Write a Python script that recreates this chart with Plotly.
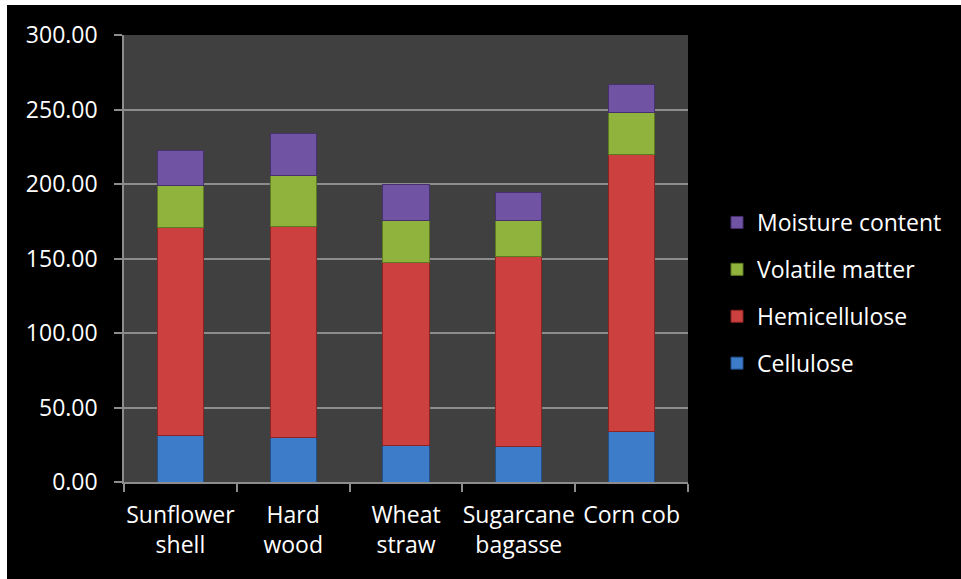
import plotly.graph_objects as go

# Biomass feedstocks (x categories) and their stacked composition values
categories = ["Sunflower<br>shell", "Hard<br>wood", "Wheat<br>straw", "Sugarcane<br>bagasse", "Corn cob"]
cellulose = [31.1, 29.8, 24.2, 23.8, 33.6]
hemicellulose = [139.5, 141.9, 122.9, 127.8, 186.0]
volatile_matter = [28.7, 34.1, 28.7, 24.2, 28.5]
moisture_content = [22.9, 28.3, 23.8, 18.6, 19.0]

series_names = ["Cellulose", "Hemicellulose", "Volatile matter", "Moisture content"]
series_values = [cellulose, hemicellulose, volatile_matter, moisture_content]
series_colors = ["#3d7cc9", "#cc413f", "#8fb33d", "#7153a3"]
series_edges = ["#234f8a", "#8a2523", "#5c7a22", "#46306e"]

y_ticks = [0, 50, 100, 150, 200, 250, 300]

FONT = "Open Sans"
W, H = 961, 579
ML, MR, MT, MB = 124, 273, 35, 97
PW, PH = W - ML - MR, H - MT - MB

fig = go.Figure()
n_series = len(series_names)
for i, (name, vals, col, edge) in enumerate(zip(series_names, series_values, series_colors, series_edges)):
    fig.add_trace(go.Bar(
        name=name,
        x=categories,
        y=vals,
        legendgroup=name,
        legendrank=n_series - i,  # top segment listed first
        marker=dict(color=col, line=dict(color=edge, width=1)),
    ))


def px_x(p):
    return (p - ML) / PW


def px_y(p):
    return (H - MB - p) / PH


shapes = [
    # black chart frame (thin white edge left/top)
    dict(type="rect", xref="paper", yref="paper", layer="below",
         x0=px_x(7), x1=px_x(W + 2), y0=px_y(H + 2), y1=px_y(5),
         fillcolor="black", line=dict(width=0)),
    # dark grey plotting area
    dict(type="rect", xref="paper", yref="paper", layer="below",
         x0=0, x1=1, y0=0, y1=1, fillcolor="#404040", line=dict(width=0)),
]

fig.update_layout(
    width=W, height=H, autosize=False,
    margin=dict(l=ML, r=MR, t=MT, b=MB, pad=0, autoexpand=False),
    paper_bgcolor="white",
    plot_bgcolor="#404040",
    barmode="stack",
    bargap=0.59,
    shapes=shapes,
    font=dict(family=FONT, size=23, color="white"),
    legend=dict(
        x=px_x(717), xanchor="left",
        y=px_y(293), yanchor="middle",
        traceorder="grouped",
        tracegroupgap=14,
        bgcolor="rgba(0,0,0,0)",
        font=dict(family=FONT, size=23, color="white"),
    ),
    xaxis=dict(
        type="category",
        range=[-0.5, 4.5],
        tickson="boundaries",
        tickangle=0,
        automargin=False,
        ticklabelstandoff=12,
        ticks="outside", ticklen=8, tickwidth=1.5, tickcolor="#8c8c8c",
        showline=True, linecolor="#8c8c8c", linewidth=1.5,
        showgrid=False,
        tickfont=dict(family=FONT, size=23, color="white"),
    ),
    yaxis=dict(
        range=[0, 300],
        tickvals=y_ticks,
        tickformat=".2f",
        automargin=False,
        ticklabelstandoff=12,
        ticks="outside", ticklen=8, tickwidth=1.5, tickcolor="#8c8c8c",
        showline=True, linecolor="#8c8c8c", linewidth=1.5,
        showgrid=True, gridcolor="#8c8c8c", gridwidth=1.5,
        zeroline=False,
        tickfont=dict(family=FONT, size=23, color="white"),
    ),
)

fig.write_html("out.html")
